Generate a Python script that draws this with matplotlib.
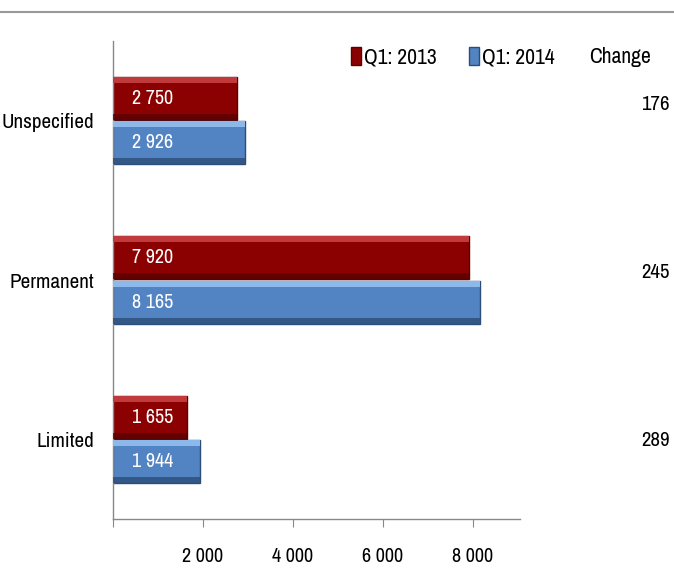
import matplotlib
matplotlib.use("Agg")
import matplotlib.pyplot as plt
from matplotlib.patches import Patch
from matplotlib.transforms import blended_transform_factory
import numpy as np

categories = ["Limited", "Permanent", "Unspecified"]
q1_2013 = [1655, 7920, 2750]
q1_2014 = [1944, 8165, 2926]
change = [289, 245, 176]
series_names = ["Q1: 2013", "Q1: 2014"]
xticks = [0, 2000, 4000, 6000, 8000]

plt.rcParams['font.family'] = ['Archivo Narrow', 'DejaVu Sans']

def fmt(v):
    return f"{v:,}".replace(",", " ")

W, H = 674, 578
fig = plt.figure(figsize=(W/100, H/100), dpi=100)
ax = fig.add_axes([113/W, 1-519/H, (520-113)/W, (519-41)/H])

y = np.arange(len(categories))
h = 0.27
off = 0.14
red, red_hi, red_lo = "#8b0000", "#c0393b", "#5a0000"
blue, blue_hi, blue_lo = "#5283c2", "#8db8ea", "#2c4d78"

def bevel_bars(ypos, vals, base, hi, lo):
    ax.barh(ypos, vals, height=h, color=base, edgecolor=lo, linewidth=1.0, zorder=2)
    strip = h * 0.14
    ax.barh(ypos + h/2 - strip/2, vals, height=strip, color=hi, linewidth=0, zorder=3)
    ax.barh(ypos - h/2 + strip/2, vals, height=strip, color=lo, linewidth=0, zorder=3, alpha=0.8)

bevel_bars(y + off, q1_2013, red, red_hi, red_lo)
bevel_bars(y - off, q1_2014, blue, blue_hi, blue_lo)

for yi, v in zip(y, q1_2013):
    ax.text(420, yi + off, fmt(v), color="white", va="center", ha="left", fontsize=14.5, zorder=5)
for yi, v in zip(y, q1_2014):
    ax.text(420, yi - off, fmt(v), color="white", va="center", ha="left", fontsize=14.5, zorder=5)

ax.set_xlim(0, 9050)
ax.set_ylim(-0.5, 2.5)
ax.set_xticks(xticks)
ax.set_xticklabels([fmt(t) if t else "" for t in xticks], fontsize=14.5)
ax.set_yticks(y)
ax.set_yticklabels(categories, fontsize=15.2)
ax.tick_params(axis="y", length=0, pad=13.5)
ax.tick_params(axis="x", length=6, color="#888888", pad=14)
for s in ["top", "right"]:
    ax.spines[s].set_visible(False)
for s in ["left", "bottom"]:
    ax.spines[s].set_color("#888888")
    ax.spines[s].set_linewidth(1.0)

# change column
ax2 = ax.twinx()
ax2.set_ylim(-0.463, 2.374)
ax2.axis("off")
tr = blended_transform_factory(fig.transFigure, ax2.transData)
for yi, c in zip(y, change):
    ax2.text(670/W, yi, str(c), transform=tr, ha="right", va="center", fontsize=15, clip_on=False)

handles = [Patch(facecolor=red, edgecolor=red_lo), Patch(facecolor=blue, edgecolor=blue_lo)]
fig.legend(handles, series_names, loc="center left", bbox_to_anchor=(351/W, 1-57/H), ncol=2,
           frameon=False, fontsize=15.5, handlelength=0.45, handleheight=0.9, handletextpad=0.15,
           columnspacing=1.5, borderaxespad=0, borderpad=0)
fig.text(620/W, 1-57/H, "Change", ha="center", va="center", fontsize=15.5)

fig.add_artist(plt.Line2D([0, 1], [1-12/H, 1-12/H], color="#999999", linewidth=1.5, transform=fig.transFigure))

fig.savefig("out.png", dpi=100)
